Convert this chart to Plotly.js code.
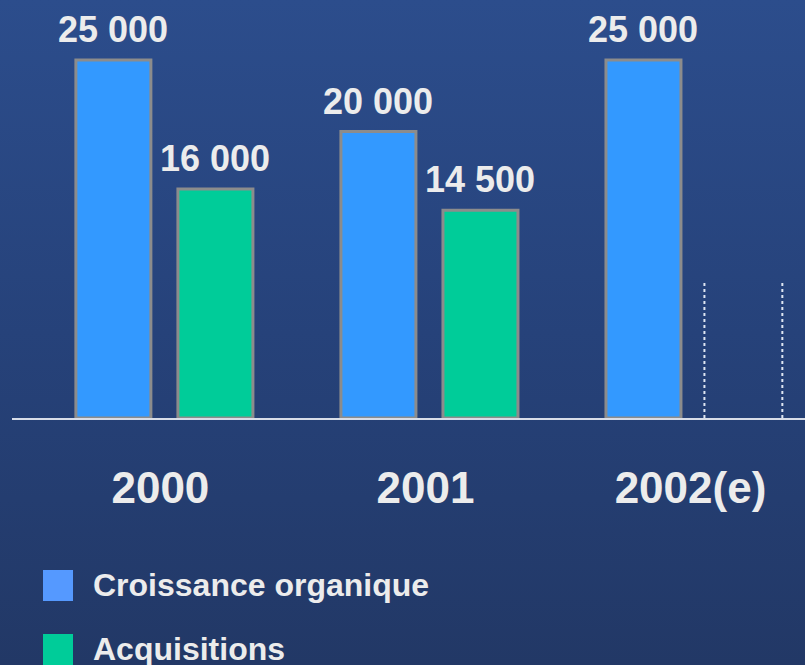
<!DOCTYPE html>
<html>
<head>
<meta charset="utf-8">
<script src="https://cdn.plot.ly/plotly-3.0.1.min.js"></script>
<style>
  html, body { margin: 0; padding: 0; }
  body { width: 805px; height: 665px; overflow: hidden;
         background: linear-gradient(to bottom, #2c4d8c 0%, #26427a 50%, #223866 100%); }
  #chart { width: 805px; height: 665px; }
</style>
</head>
<body>
<div id="chart"></div>
<script>
// ---- data ----
const years = ['2000', '2001', '2002(e)'];
const organique = [25000, 20000, 25000];
const acquisitions = [16000, 14500, null];
const acquisitionsOpen = [null, null, 9600];   // dotted, un-filled outline for 2002(e)
const seriesNames = ['Croissance organique', 'Acquisitions'];
const valueLabels = (v) => v == null ? '' : String(v).replace(/\B(?=(\d{3})+(?!\d))/g, ' ');

// ---- layout constants (styling) ----
const W = 805, H = 665;
const mL = 12, mR = 0, mT = 0, mB = 247;
const plotW = W - mL - mR, plotH = H - mT - mB;
const off = 0.1925, barW = 0.294;
const txt = '#ececec';
const font = 'Liberation Sans, Arial, sans-serif';
const px2x = (px) => (px - mL) / plotW;
const px2y = (py) => (H - mB - py) / plotH;

const traces = [
  { type: 'bar', name: seriesNames[0], x: years, y: organique,
    marker: { color: '#3399ff', line: { color: '#8c8c8c', width: 3 } }, hoverinfo: 'skip' },
  { type: 'bar', name: seriesNames[1], x: years, y: acquisitions,
    marker: { color: '#00cc99', line: { color: '#8c8c8c', width: 3 } }, hoverinfo: 'skip' }
];

const annotations = [];
[organique, acquisitions].forEach((arr, s) => {
  arr.forEach((v, i) => {
    if (v == null) return;
    annotations.push({ x: i + (s === 0 ? -off : off), y: v, xref: 'x', yref: 'y',
      text: valueLabels(v), showarrow: false, yanchor: 'bottom', yshift: 8,
      font: { family: font, size: 36, color: txt, weight: 'bold' } });
  });
});

const shapes = [];
acquisitionsOpen.forEach((v, i) => {
  if (v == null) return;
  [-1, 1].forEach(sgn => {
    shapes.push({ type: 'line', xref: 'x', yref: 'y',
      x0: i + off + sgn * barW / 2 - 0.008, x1: i + off + sgn * barW / 2 - 0.008, y0: 0, y1: v,
      line: { color: '#dfe6f2', width: 2, dash: 'dot' } });
  });
});

// manual legend
const legendColors = ['#5599ff', '#00cc99'];
const legendY = [585, 649];
seriesNames.forEach((n, k) => {
  shapes.push({ type: 'rect', xref: 'paper', yref: 'paper',
    x0: px2x(43), x1: px2x(73), y0: px2y(legendY[k] - 15), y1: px2y(legendY[k] + 16),
    fillcolor: legendColors[k], line: { width: 0 } });
  annotations.push({ xref: 'paper', yref: 'paper', x: px2x(91), y: px2y(legendY[k]),
    xanchor: 'left', yanchor: 'middle', text: n, showarrow: false,
    font: { family: font, size: 32, color: txt, weight: 'bold' } });
});

const layout = {
  width: W, height: H,
  margin: { l: mL, r: mR, t: mT, b: mB, pad: 0 },
  paper_bgcolor: 'rgba(0,0,0,0)', plot_bgcolor: 'rgba(0,0,0,0)',
  barmode: 'group', bargap: 0.23, bargroupgap: 0.265,
  showlegend: false,
  xaxis: { type: 'category', range: [-0.575, 2.417], showgrid: false, zeroline: false,
    showline: true, linecolor: '#d8dde8', linewidth: 2, ticks: '',
    ticklabelstandoff: 30, ticklabelshift: -4,
    tickfont: { family: font, size: 44, color: txt, weight: 'bold' } },
  yaxis: { range: [0, 29190], visible: false, showgrid: false, zeroline: false },
  annotations: annotations,
  shapes: shapes
};

Plotly.newPlot('chart', traces, layout, { staticPlot: true, displayModeBar: false });
</script>
</body>
</html>
